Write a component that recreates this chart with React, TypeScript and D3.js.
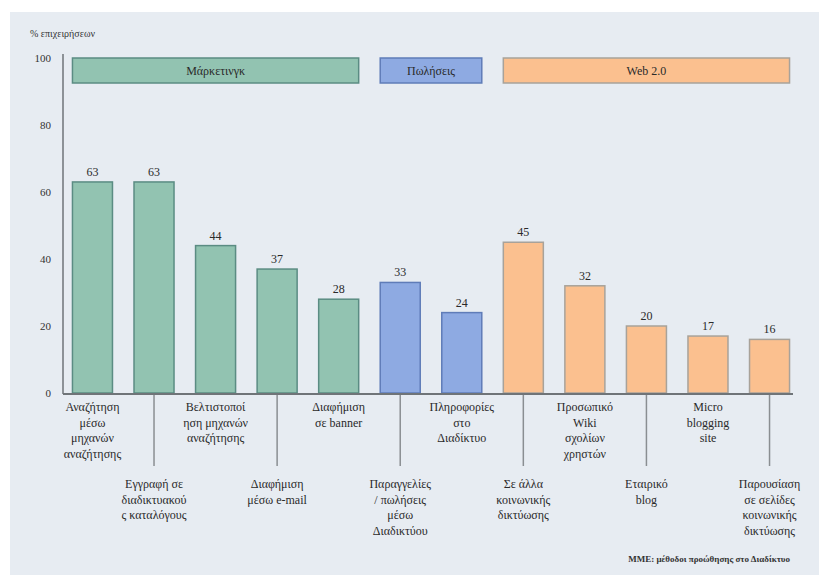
import React, { useEffect, useRef } from "react";
import * as d3 from "d3";

// data
const categories = [
  "Αναζήτηση μέσω μηχανών αναζήτησης",
  "Εγγραφή σε διαδικτυακούς καταλόγους",
  "Βελτιστοποίηση μηχανών αναζήτησης",
  "Διαφήμιση μέσω e-mail",
  "Διαφήμιση σε banner",
  "Παραγγελίες / πωλήσεις μέσω Διαδικτύου",
  "Πληροφορίες στο Διαδίκτυο",
  "Σε άλλα κοινωνικής δικτύωσης",
  "Προσωπικό Wiki σχολίων χρηστών",
  "Εταιρικό blog",
  "Micro blogging site",
  "Παρουσίαση σε σελίδες κοινωνικής δικτύωσης",
];
const labelLines = [
  ["Αναζήτηση", "μέσω", "μηχανών", "αναζήτησης"],
  ["Εγγραφή σε", "διαδικτυακού", "ς καταλόγους"],
  ["Βελτιστοποί", "ηση μηχανών", "αναζήτησης"],
  ["Διαφήμιση", "μέσω e-mail"],
  ["Διαφήμιση", "σε banner"],
  ["Παραγγελίες", "/ πωλήσεις", "μέσω", "Διαδικτύου"],
  ["Πληροφορίες", "στο", "Διαδίκτυο"],
  ["Σε άλλα", "κοινωνικής", "δικτύωσης"],
  ["Προσωπικό", "Wiki", "σχολίων", "χρηστών"],
  ["Εταιρικό", "blog"],
  ["Micro", "blogging", "site"],
  ["Παρουσίαση", "σε σελίδες", "κοινωνικής", "δικτύωσης"],
];
const values = [63, 63, 44, 37, 28, 33, 24, 45, 32, 20, 17, 16];
const groupOf = [0, 0, 0, 0, 0, 1, 1, 2, 2, 2, 2, 2];
const groupNames = ["Μάρκετινγκ", "Πωλήσεις", "Web 2.0"];
const groupFill = ["#92c3b1", "#8eaae2", "#fbc08f"];
const groupStroke = ["#5b8c83", "#5f7cb8", "#a8a29a"];
const yTicks = [0, 20, 40, 60, 80, 100];

const W = 819;
const H = 575;
const FONT = "'Liberation Serif', 'DejaVu Serif', serif";

function App() {
  const node = useRef<SVGSVGElement>(null);

  useEffect(() => {
    document.body.style.margin = "0";
    const svg = d3.select(node.current);
    svg.selectAll("*").remove();

    const x = d3.scaleBand().domain(categories).range([62, 800]).paddingInner(0.35).paddingOuter(0.17);
    const y = d3.scaleLinear().domain([0, 100]).range([393, 58]);

    svg.append("rect").attr("width", W).attr("height", H).attr("fill", "#ffffff");
    svg.append("rect").attr("x", 10).attr("y", 12).attr("width", W - 10).attr("height", H - 12).attr("fill", "#e7ecf2");

    svg.append("text").attr("x", 30).attr("y", 37).attr("font-family", FONT).attr("font-size", 10)
      .attr("fill", "#333").text("% επιχειρήσεων");

    // y axis
    const yAxis = d3.axisLeft(y).tickValues(yTicks).tickSize(0).tickPadding(12);
    const gy = svg.append("g").attr("transform", "translate(63,0)").call(yAxis);
    gy.select(".domain").attr("stroke", "#6f7478").attr("stroke-width", 1.5).attr("d", `M0,${y(0) + 1}V${y(100) - 4}`);
    gy.selectAll(".tick text").attr("font-family", FONT).attr("font-size", 11).attr("fill", "#333");

    // group header boxes
    groupNames.forEach((name, gi) => {
      const idx = categories.filter((_, i) => groupOf[i] === gi);
      const x0 = x(idx[0])!;
      const x1 = x(idx[idx.length - 1])! + x.bandwidth();
      svg.append("rect").attr("x", x0).attr("y", 58).attr("width", x1 - x0).attr("height", 25)
        .attr("fill", groupFill[gi]).attr("stroke", groupStroke[gi]).attr("stroke-width", 1.5);
      svg.append("text").attr("x", (x0 + x1) / 2).attr("y", 75).attr("text-anchor", "middle")
        .attr("font-family", FONT).attr("font-size", 12).attr("fill", "#2a2a2a").text(name);
    });

    // bars
    const bars = svg.append("g").selectAll("g").data(categories).enter().append("g");
    bars.append("rect")
      .attr("x", (d) => x(d)!)
      .attr("y", (d, i) => y(values[i]))
      .attr("width", x.bandwidth())
      .attr("height", (d, i) => y(0) - y(values[i]))
      .attr("fill", (d, i) => groupFill[groupOf[i]])
      .attr("stroke", (d, i) => groupStroke[groupOf[i]])
      .attr("stroke-width", 1.5);
    bars.append("text")
      .attr("x", (d) => x(d)! + x.bandwidth() / 2)
      .attr("y", (d, i) => y(values[i]) - 6)
      .attr("text-anchor", "middle")
      .attr("font-family", FONT).attr("font-size", 12).attr("fill", "#2a2a2a")
      .text((d, i) => values[i]);

    // x axis line
    svg.append("line").attr("x1", 63).attr("x2", 793).attr("y1", y(0) + 1).attr("y2", y(0) + 1)
      .attr("stroke", "#6f7478").attr("stroke-width", 2);

    // category labels, alternating upper and lower rows
    categories.forEach((c, i) => {
      const cx = x(c)! + x.bandwidth() / 2;
      const lower = i % 2 === 1;
      if (lower) {
        svg.append("line").attr("x1", cx).attr("x2", cx).attr("y1", y(0) + 2).attr("y2", 466)
          .attr("stroke", "#8a8e92").attr("stroke-width", 1.5);
      }
      const t = svg.append("text").attr("text-anchor", "middle").attr("font-family", FONT)
        .attr("font-size", 12).attr("fill", "#2a2a2a");
      labelLines[i].forEach((ln, k) => {
        t.append("tspan").attr("x", cx).attr("y", (lower ? 488 : 411) + k * 15.5).text(ln);
      });
    });

    svg.append("text").attr("x", 790).attr("y", 562).attr("text-anchor", "end")
      .attr("font-family", FONT).attr("font-size", 9).attr("font-weight", "bold").attr("fill", "#333")
      .text("ΜΜΕ: μέθοδοι προώθησης στο Διαδίκτυο");
  }, []);

  return <svg ref={node} width={W} height={H} style={{ display: "block" }} />;
}

export default App;
